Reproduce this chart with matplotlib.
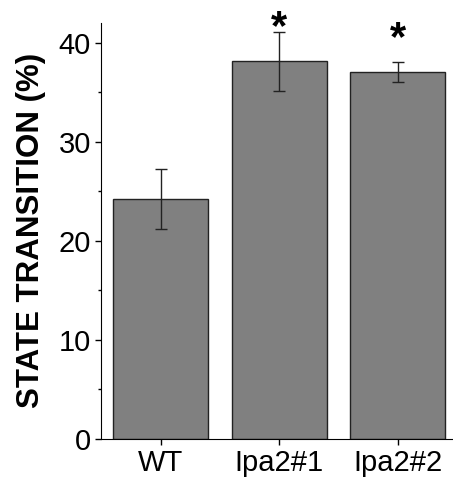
import matplotlib.pyplot as plt
import numpy as np

plt.rcParams['font.family'] = ['Liberation Sans', 'DejaVu Sans']

labels = ['WT', 'Ipa2#1', 'Ipa2#2']
values = [24.2, 38.1, 37.0]
errors = [3.0, 3.0, 1.0]
significant = [False, True, True]

fig = plt.figure(figsize=(4.53, 4.8), dpi=100)
ax = fig.add_axes([0.224, 0.0854, 0.78, 0.867])

x = np.arange(len(labels))
ax.bar(x, values, width=0.8, color='#808080', edgecolor='#222222', linewidth=1.0,
       yerr=errors, capsize=4, error_kw=dict(elinewidth=1.0, ecolor='#222222', capthick=1.0))

# stars sit a fixed height above the bar top
for xi, v, s in zip(x, values, significant):
    if s:
        ax.text(xi, v + 2.3, '*', ha='center', va='baseline', fontsize=30,
                fontweight='bold', clip_on=False)

ax.set_xlim(-0.5, 2.48)
ax.set_ylim(0, 42)
ax.set_xticks(x)
ax.set_xticklabels(labels)
ax.set_yticks([0, 10, 20, 30, 40])
ax.set_yticks(np.arange(5, 42, 10), minor=True)
ax.tick_params(axis='both', which='major', direction='out', length=4, width=1,
               labelsize=21, pad=3.5)
ax.tick_params(axis='y', which='minor', direction='out', length=2.5, width=1)
ax.spines['top'].set_visible(False)
ax.spines['right'].set_visible(False)
ax.set_ylabel('STATE TRANSITION (%)', fontsize=22.5, fontweight='bold')
ax.yaxis.set_label_coords(-0.158, 0.5)

fig.savefig('out.png', dpi=100)
